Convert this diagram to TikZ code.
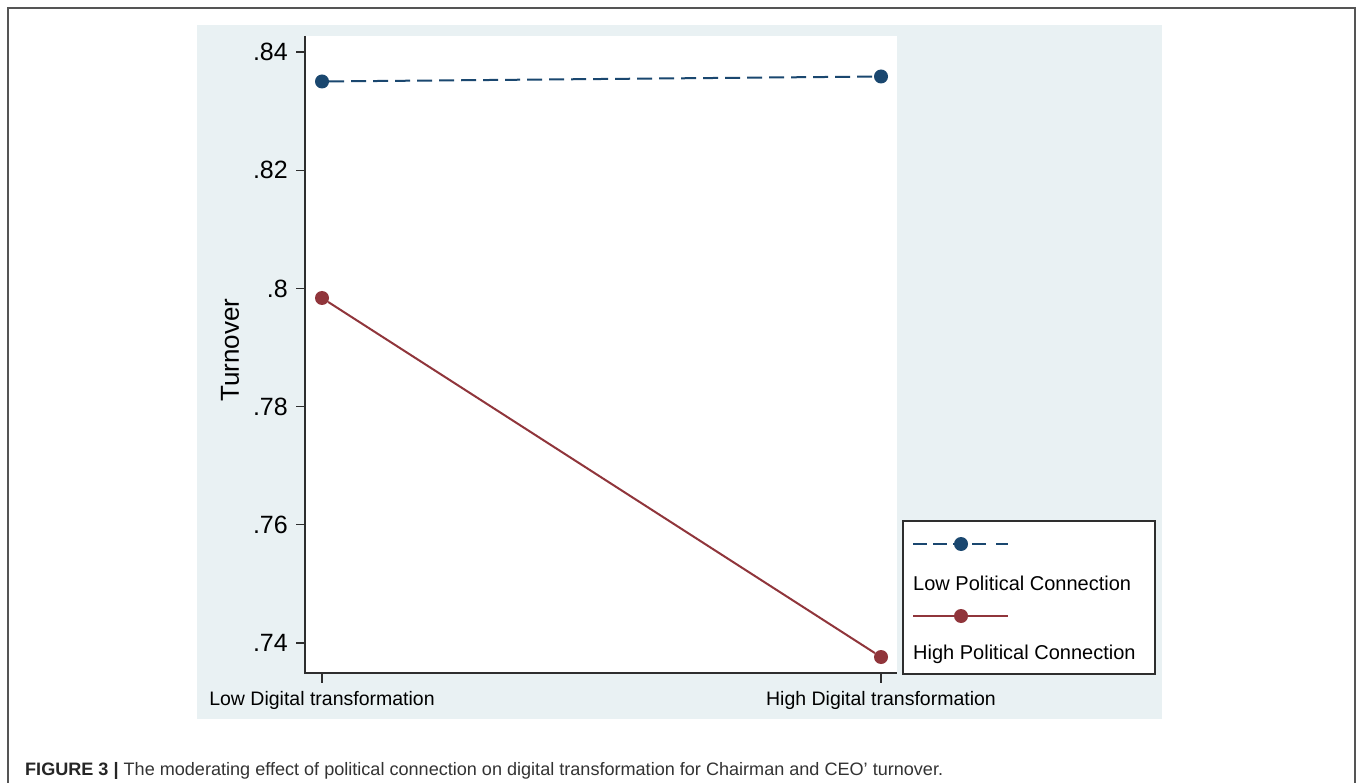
\documentclass[tikz,border=0pt]{standalone}
\usepackage{fontspec}
\setmainfont{Liberation Sans}
\usepackage{graphicx}
\definecolor{bgc}{HTML}{E9F1F3}
\definecolor{navyc}{HTML}{1A476F}
\definecolor{maroonc}{HTML}{90353B}
\definecolor{axc}{HTML}{2E2E2E}
\definecolor{framec}{HTML}{555555}
\definecolor{capc}{HTML}{333333}
\tikzset{
  axisline/.style={draw=axc, line width=1.3pt},
  ticklab/.style={anchor=east, inner sep=0pt, font=\fontsize{25}{29}\selectfont, text=black},
  xlab/.style={anchor=center, inner sep=0pt, font=\fontsize{19.5}{23}\selectfont, text=black},
  leglab/.style={anchor=west, inner sep=0pt, font=\fontsize{20}{24}\selectfont, text=black},
  bluedot/.style={circle, fill=navyc, inner sep=0pt, minimum size=14pt},
  reddot/.style={circle, fill=maroonc, inner sep=0pt, minimum size=14pt},
  blueline/.style={draw=navyc, line width=2pt, dash pattern=on 15pt off 7pt},
  redline/.style={draw=maroonc, line width=2pt}
}
\begin{document}
\begin{tikzpicture}[x=1pt,y=-1pt]
\useasboundingbox (0,0) rectangle (1360,783);
\fill[white] (0,0) rectangle (1360,783);
\clip (0,0) rectangle (1360,783);
% outer frame
\draw[framec, line width=1.5pt] (8,800) -- (8,8) -- (1355,8) -- (1355,800);
% graph region and plot region
\fill[bgc] (197,25) rectangle (1162,719);
\fill[white] (305,36) rectangle (897,673);
% axes
\draw[axisline] (305,36) -- (305,673) -- (897,673);
% y ticks
\foreach \v/\lab [count=\i from 0] in {0.84/.84,0.82/.82,0.80/.8,0.78/.78,0.76/.76,0.74/.74}{
  \pgfmathsetmacro{\yy}{52+\i*118.2}
  \draw[axisline] (296,\yy) -- (305,\yy);
  \node[ticklab] (yt\i) at (288,\yy) {\lab};
}
% x ticks
\draw[axisline] (322,673) -- (322,683);
\draw[axisline] (881,673) -- (881,683);
\node[xlab] (xl1) at (322,700) {Low Digital transformation};
\node[xlab] (xl2) at (881,700) {High Digital transformation};
% axis title
\node[rotate=90, inner sep=0pt, font=\fontsize{26}{30}\selectfont] (ytitle) at (230,350) {Turnover};
% data
\node[bluedot] (b1) at (322,81.5) {};
\node[bluedot] (b2) at (881,76.5) {};
\node[reddot] (r1) at (322,298) {};
\node[reddot] (r2) at (881,657) {};
\draw[blueline] (b1) -- (b2);
\draw[redline] (r1) -- (r2);
% legend
\draw[axisline, fill=white] (903,521) rectangle (1155,674);
\coordinate (la) at (913,544);
\coordinate (lb) at (1008,544);
\coordinate (lc) at (913,616);
\coordinate (ld) at (1008,616);
\node[bluedot] (lbd) at (961,544) {};
\node[reddot] (lrd) at (961,616) {};
\draw[draw=navyc, line width=2pt, dash pattern=on 14pt off 6pt] (la) -- (lbd);
\draw[draw=navyc, line width=2pt, dash pattern=on 0pt off 4pt on 14pt off 6pt] (lbd) -- (lb);
\draw[redline] (lc) -- (lrd) -- (ld);
\node[leglab] (lt1) at (913,583) {Low Political Connection};
\node[leglab] (lt2) at (913,654) {High Political Connection};
% caption
\node[anchor=base west, inner sep=0pt, text=capc, font=\fontsize{18}{22}\selectfont] (cap) at (25,775)
  {\resizebox{918pt}{\height}{\textbf{\color{black!85}FIGURE 3 |} The moderating effect of political connection on digital transformation for Chairman and CEO’ turnover.}};
\end{tikzpicture}
\end{document}
